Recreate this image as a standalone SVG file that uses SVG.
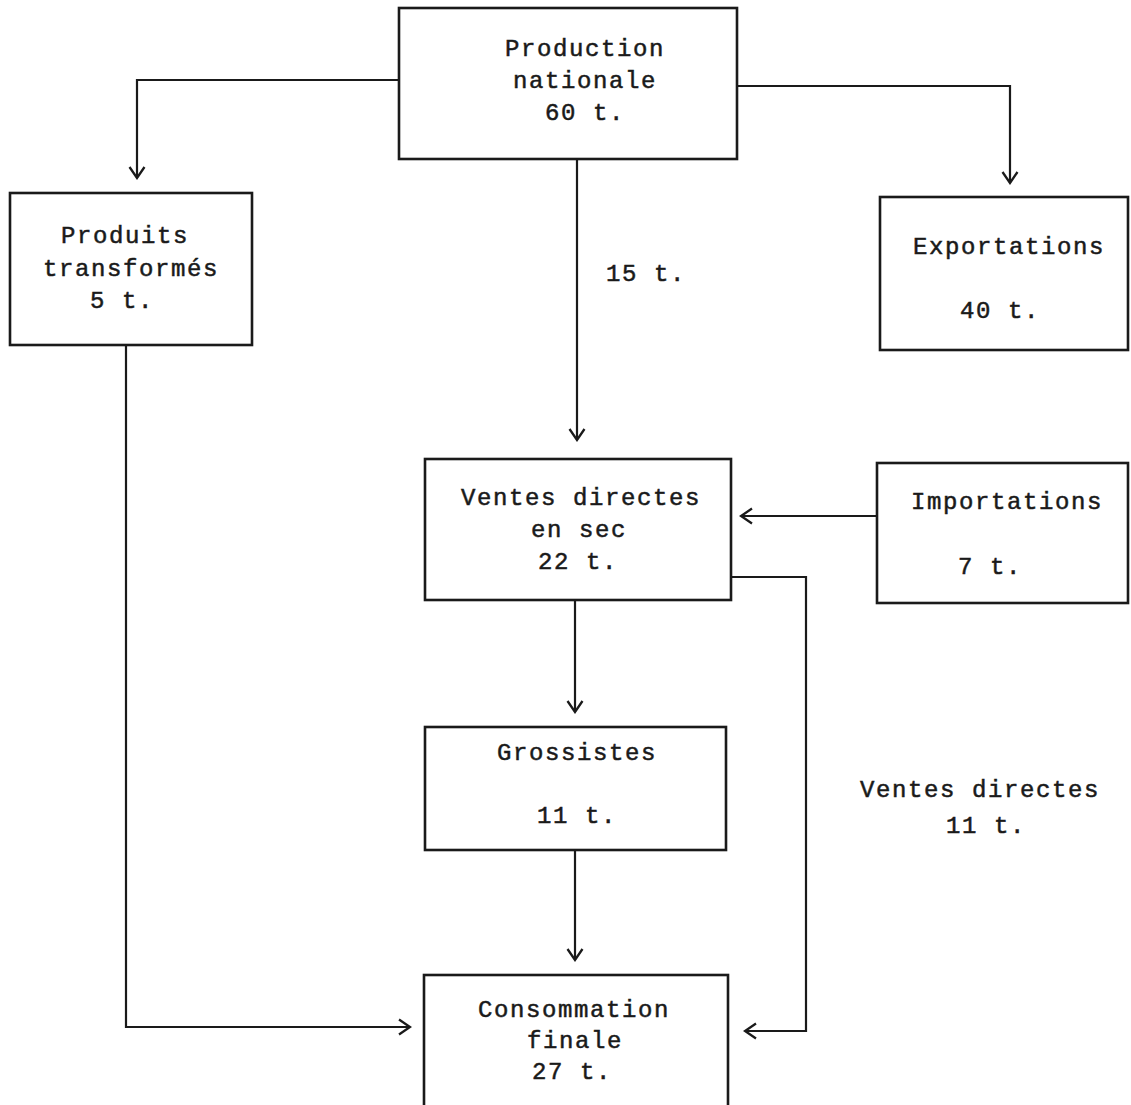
<svg xmlns="http://www.w3.org/2000/svg" width="1131" height="1105" viewBox="0 0 1131 1105">
<style>
.box{fill:#fff;stroke:#1a1a1a;stroke-width:2.6}
.ln{fill:none;stroke:#1a1a1a;stroke-width:2.2}
text{font-family:"Liberation Mono","DejaVu Sans Mono",monospace;font-size:24px;letter-spacing:1.6px;fill:#1a1a1a;stroke:#1a1a1a;stroke-width:0.5;text-anchor:middle}
.st{text-anchor:start}
</style>
<defs>
<marker id="arr" viewBox="-13 -9 15 18" refX="0" refY="0" markerWidth="15" markerHeight="18" markerUnits="userSpaceOnUse" orient="auto">
<path d="M-11,-7.5 L0,0 L-11,7.5" fill="none" stroke="#1a1a1a" stroke-width="2.3"/>
</marker>
</defs>
<rect width="1131" height="1105" fill="#fff"/>
<g id="connectors">
<path class="ln" d="M399,80 H137 V178" marker-end="url(#arr)"/>
<path class="ln" d="M737,86 H1010 V183" marker-end="url(#arr)"/>
<path class="ln" d="M577,159 V440" marker-end="url(#arr)"/>
<path class="ln" d="M877,516 H741" marker-end="url(#arr)"/>
<path class="ln" d="M575,600 V712" marker-end="url(#arr)"/>
<path class="ln" d="M575,850 V960" marker-end="url(#arr)"/>
<path class="ln" d="M126,345 V1027 H410" marker-end="url(#arr)"/>
<path class="ln" d="M731,577 H806 V1031 H745" marker-end="url(#arr)"/>
<text class="st" x="606" y="281">15 t.</text>
<text x="980" y="797">Ventes directes</text>
<text x="986" y="833">11 t.</text>
</g>
<g id="production">
<rect class="box" x="399" y="8" width="338" height="151"/>
<text x="585" y="56">Production</text>
<text x="585" y="88">nationale</text>
<text x="585" y="120">60 t.</text>
</g>
<g id="produits">
<rect class="box" x="10" y="193" width="242" height="152"/>
<text x="125" y="243">Produits</text>
<text x="131" y="276">transformés</text>
<text x="122" y="308">5 t.</text>
</g>
<g id="exportations">
<rect class="box" x="880" y="197" width="248" height="153"/>
<text x="1009" y="254">Exportations</text>
<text x="1000" y="318">40 t.</text>
</g>
<g id="ventes">
<rect class="box" x="425" y="459" width="306" height="141"/>
<text x="581" y="505">Ventes directes</text>
<text x="579" y="537">en sec</text>
<text x="578" y="569">22 t.</text>
</g>
<g id="importations">
<rect class="box" x="877" y="463" width="251" height="140"/>
<text x="1007" y="509">Importations</text>
<text x="990" y="574">7 t.</text>
</g>
<g id="grossistes">
<rect class="box" x="425" y="727" width="301" height="123"/>
<text x="577" y="760">Grossistes</text>
<text x="577" y="823">11 t.</text>
</g>
<g id="consommation">
<rect class="box" x="424" y="975" width="304" height="140"/>
<text x="574" y="1017">Consommation</text>
<text x="575" y="1048">finale</text>
<text x="572" y="1079">27 t.</text>
</g>
</svg>
